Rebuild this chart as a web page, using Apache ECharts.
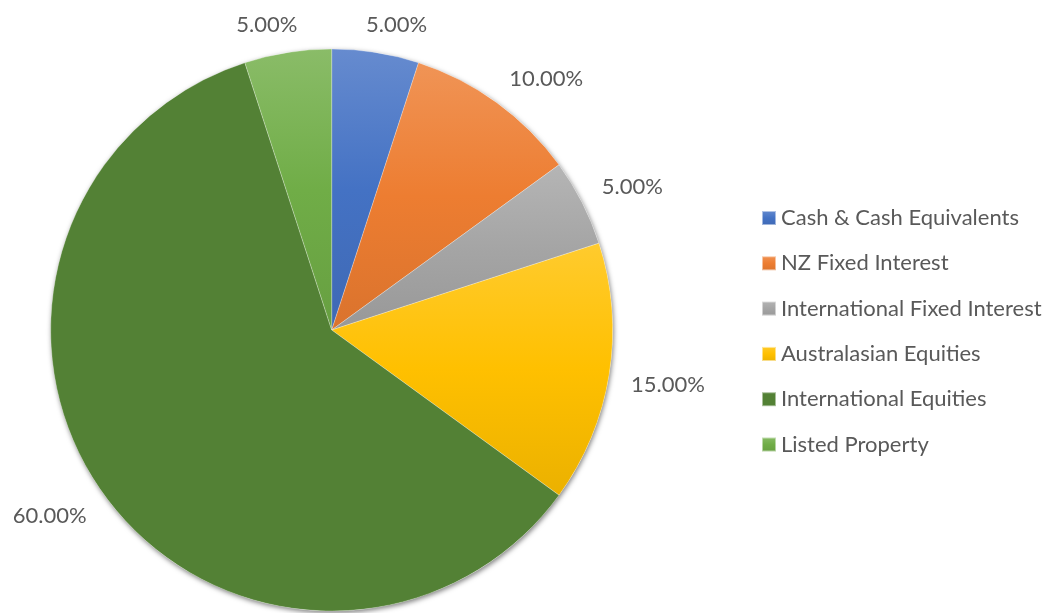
<!DOCTYPE html>
<html><head><meta charset="utf-8">
<script src="https://cdn.jsdelivr.net/npm/echarts@6/dist/echarts.min.js"></script>
<style>html,body{margin:0;padding:0;background:#fff}#c{width:1054px;height:613px}</style>
</head><body><div id="c"></div>
<script>
// ---- data ----
const categories = ['Cash & Cash Equivalents','NZ Fixed Interest','International Fixed Interest','Australasian Equities','International Equities','Listed Property'];
const values = [5, 10, 5, 15, 60, 5];
const baseColors = ['#4472C4','#ED7D31','#A5A5A5','#FFC000','#538135','#70AD47'];
const flatFill = [false, false, false, false, true, false];

// ---- layout constants ----
const CX = 331.7, CY = 330, R = 281, GAP = 22;
const FONT = 'Lato';
const TEXT = '#595959';

function mix(hex, target, t){
  const n = parseInt(hex.slice(1),16);
  const r=(n>>16)&255,g=(n>>8)&255,b=n&255;
  const f=c=>Math.round(c+(target-c)*t);
  return 'rgb('+f(r)+','+f(g)+','+f(b)+')';
}
function grad(hex){
  return new echarts.graphic.LinearGradient(0,0,0,1,[
    {offset:0,color:mix(hex,255,0.18)},
    {offset:0.5,color:hex},
    {offset:1,color:mix(hex,0,0.08)}
  ]);
}
const total = values.reduce((a,b)=>a+b,0);

const chart = echarts.init(document.getElementById('c'), null, {renderer:'canvas'});
chart.setOption({
  animation:false,
  backgroundColor:'#fff',
  legend:{
    orient:'vertical',
    left:756, top:201,
    icon:'rect', itemWidth:14, itemHeight:14, itemGap:21.3,
    data:categories,
    textStyle:{fontFamily:FONT, fontSize:22, color:TEXT, lineHeight:24}
  },
  series:[
    {
      type:'pie', silent:true, center:[CX,CY], radius:R, startAngle:90,
      label:{show:false}, labelLine:{show:false},
      itemStyle:{color:'#ffffff', shadowBlur:5, shadowColor:'rgba(0,0,0,0.5)', shadowOffsetX:1, shadowOffsetY:2},
      data:[{name:'_bg', value:1}], z:1
    },
    {
      type:'pie', center:[CX,CY], radius:R, startAngle:90, clockwise:true,
      avoidLabelOverlap:false,
      itemStyle:{borderColor:'rgba(255,255,255,0.5)', borderWidth:0.5},
      label:{show:true, position:'outside', fontFamily:FONT, fontSize:22, color:TEXT,
        formatter:p=>p.value.toFixed(2)+'%'},
      labelLine:{show:false},
      labelLayout:function(p){
        const i=p.dataIndex;
        let before=0; for(let k=0;k<i;k++) before+=values[k];
        const mid=(before+values[i]/2)/total*2*Math.PI;
        const ux=Math.sin(mid), uy=-Math.cos(mid);
        const d=R+GAP;
        const w=p.labelRect.width;
        const sx=ux>=0?1:-1, sy=uy>=0?1:-1;
        const px=CX+ux*d - sx*(w/2)*Math.pow(1-Math.abs(ux),5);
        const py=CY+uy*d + (uy>=0 ? 7.5 : -5.5);
        return {x:px, y:py, align:ux>=0?'left':'right', verticalAlign:'middle'};
      },
      data:categories.map((c,i)=>({name:c, value:values[i], itemStyle:{color: flatFill[i] ? baseColors[i] : grad(baseColors[i])}})),
      z:2
    }
  ]
});
</script></body></html>
